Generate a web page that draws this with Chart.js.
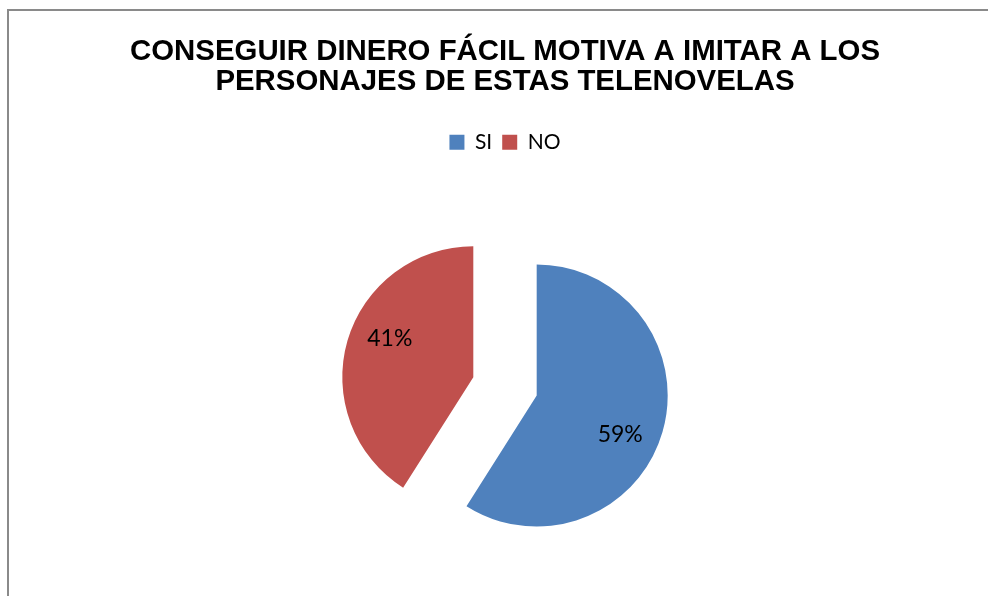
<!DOCTYPE html>
<html>
<head>
<meta charset="utf-8">
<script src="https://cdn.jsdelivr.net/npm/chart.js@4/dist/chart.umd.min.js"></script>
<style>
  html, body { margin: 0; padding: 0; background: #fff; overflow: hidden; }
  #wrap { position: relative; width: 988px; height: 610px; overflow: hidden; }
</style>
</head>
<body>
<div id="wrap">
  <canvas id="chart"></canvas>
</div>
<script>
  const titleLines = ["CONSEGUIR DINERO FÁCIL MOTIVA A IMITAR A LOS", "PERSONAJES DE ESTAS TELENOVELAS"];
  const categories = ["SI", "NO"];
  const percentages = [59, 41];
  const sliceColors = ["#4F81BD", "#C0504D"];

  const EXPLODE = 33;

  // gray frame line on the top and left side only
  const framePlugin = {
    id: "frame",
    beforeDraw(chart) {
      const ctx = chart.ctx;
      ctx.save();
      ctx.strokeStyle = "#8a8a8a";
      ctx.lineWidth = 2;
      ctx.beginPath();
      ctx.moveTo(8, chart.height);
      ctx.lineTo(8, 10);
      ctx.lineTo(chart.width, 10);
      ctx.stroke();
      ctx.restore();
    }
  };

  // draws each slice pushed out along its middle angle
  const explodePlugin = {
    id: "explode",
    beforeDatasetDraw(chart, args) {
      const ctx = chart.ctx;
      args.meta.data.forEach(arc => {
        const mid = (arc.startAngle + arc.endAngle) / 2;
        ctx.save();
        ctx.translate(Math.cos(mid) * EXPLODE, Math.sin(mid) * EXPLODE);
        arc.draw(ctx, chart.chartArea);
        ctx.restore();
      });
      return false;
    }
  };

  const labelPlugin = {
    id: "sliceLabels",
    afterDraw(chart) {
      const ctx = chart.ctx;
      const meta = chart.getDatasetMeta(0);
      ctx.save();
      ctx.font = "23px Lato";
      ctx.fillStyle = "#000";
      ctx.textAlign = "center";
      ctx.textBaseline = "middle";
      meta.data.forEach((arc, i) => {
        // labels sit a little past the slice middle, like the spreadsheet does
        const mid = (arc.startAngle + arc.endAngle) / 2 + 0.11;
        const d = EXPLODE + arc.outerRadius * 0.7;
        ctx.fillText(percentages[i] + "%", arc.x + Math.cos(mid) * d, arc.y + Math.sin(mid) * d);
      });
      ctx.restore();
    }
  };

  new Chart(document.getElementById("chart"), {
    type: "pie",
    data: {
      labels: categories,
      datasets: [{
        data: percentages,
        backgroundColor: sliceColors,
        borderWidth: 0,
        radius: 131
      }]
    },
    options: {
      responsive: true,
      maintainAspectRatio: false,
      animation: false,
      layout: { padding: { left: 22, right: 0, top: 0, bottom: 0 } },
      plugins: {
        title: {
          display: true,
          text: titleLines,
          color: "#000",
          font: { family: "Liberation Sans", size: 29.4, weight: "bold", lineHeight: 1.05 },
          padding: { top: 36, bottom: 24 }
        },
        legend: {
          display: true,
          position: "top",
          labels: {
            color: "#000",
            font: { family: "Lato", size: 21 },
            boxWidth: 15,
            boxHeight: 15,
            padding: 10
          }
        },
        tooltip: { enabled: false }
      }
    },
    plugins: [framePlugin, explodePlugin, labelPlugin]
  });
</script>
</body>
</html>
